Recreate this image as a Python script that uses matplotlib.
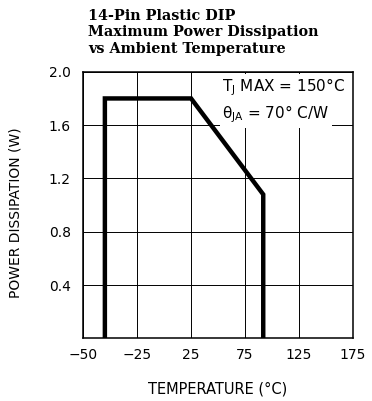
import matplotlib.pyplot as plt

# derating curve (temperature axis units, watts)
temp = [-55, -55, 25, 92, 92]
power = [0.0, 1.8, 1.8, 1.08, 0.0]

x_ticks = [-75, -25, 25, 75, 125, 175]
x_labels = ['\u221250', '\u221225', '25', '75', '125', '175']
y_ticks = [0.4, 0.8, 1.2, 1.6, 2.0]
y_labels = ['0.4', '0.8', '1.2', '1.6', '2.0']

fig = plt.figure(figsize=(3.72, 4.01), dpi=100)
ax = fig.add_axes([0.224, 0.156, 0.724, 0.665])

ax.plot(temp, power, color='black', linewidth=3.2, solid_joinstyle='miter')

ax.set_xlim(-75, 175)
ax.set_ylim(0, 2.0)
ax.set_xticks(x_ticks)
ax.set_xticklabels(x_labels)
ax.set_yticks(y_ticks)
ax.set_yticklabels(y_labels)
ax.tick_params(length=0, labelsize=10)
ax.tick_params(axis='x', pad=7)
ax.tick_params(axis='y', pad=9)
ax.grid(True, color='black', linewidth=0.7)
ax.set_axisbelow(True)
for s in ax.spines.values():
    s.set_linewidth(1.1)

ax.set_xlabel('TEMPERATURE (\u00b0C)', fontsize=10.5, labelpad=14)
ax.set_ylabel('POWER DISSIPATION (W)', fontsize=10)
ax.yaxis.set_label_coords(-0.225, 0.47)

box = dict(facecolor='white', edgecolor='none', pad=2)
ax.text(54, 1.885, 'T$_\\mathregular{J}$ MAX = 150\u00b0C', ha='left', va='center',
        fontsize=11, bbox=box)
ax.text(54, 1.683, '\u03b8$_\\mathregular{JA}$ = 70\u00b0 C/W', ha='left', va='center',
        fontsize=11, bbox=box)

fig.text(0.237, 0.977, '14-Pin Plastic DIP\nMaximum Power Dissipation\nvs Ambient Temperature',
         ha='left', va='top', fontsize=10.4, fontweight='bold',
         family='DejaVu Serif', linespacing=1.2)

fig.savefig('out.png', dpi=100)
